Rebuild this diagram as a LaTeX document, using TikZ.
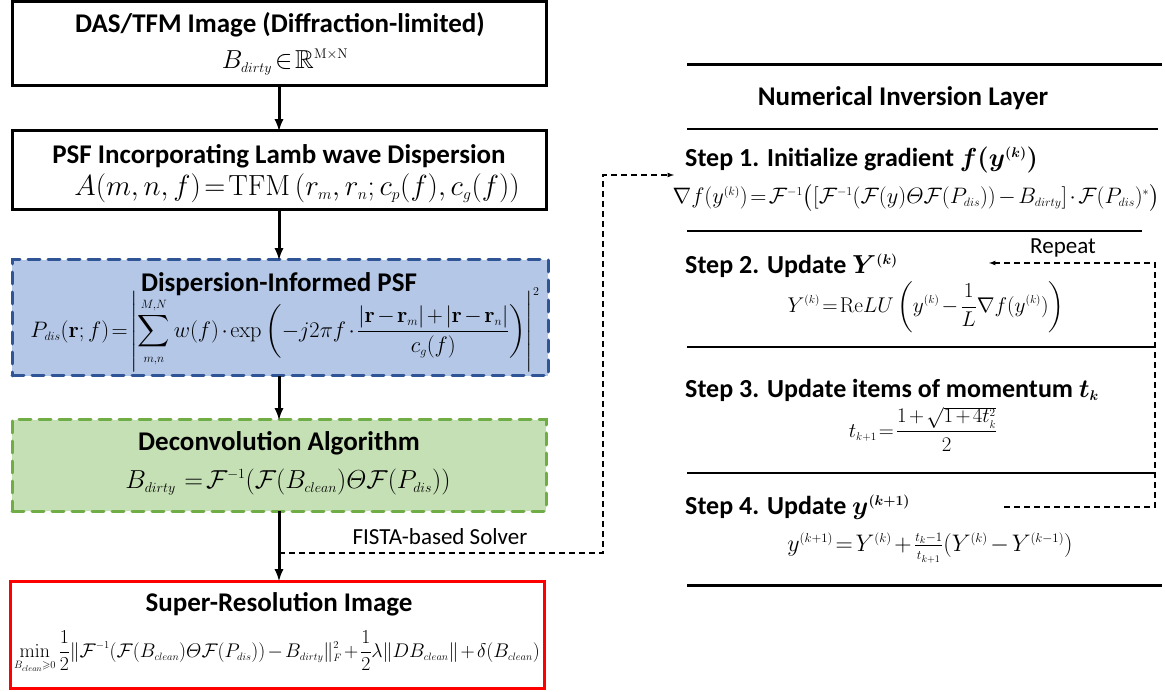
\RequirePackage{fix-cm}
\documentclass[tikz,border=0pt]{standalone}
\usepackage{amsmath,amssymb}
\usepackage[no-math]{fontspec}
\setmainfont{Carlito}
\usetikzlibrary{positioning}
\usetikzlibrary{arrows}

\DeclareMathSizes{26}{26}{14}{11}
% tight spacing round relations and binary operators
\newcommand{\tighteqn}{\thickmuskip=2mu\relax\medmuskip=2mu\relax}

\definecolor{psfblue}{HTML}{B4C7E7}
\definecolor{psfbluedraw}{HTML}{2F5597}
\definecolor{deconvgreen}{HTML}{C5E0B4}
\definecolor{deconvgreendraw}{HTML}{70AD47}

\begin{document}
\begin{tikzpicture}[>=latex,x=1pt,y=-1pt,font=\fontsize{23}{27}\selectfont,
	flowbox/.style={minimum width=534pt,outer sep=0pt,draw=black,line width=3pt},
	dashbox/.style={flowbox,dash pattern=on 12pt off 8pt,line cap=round},
	boxtitle/.style={font=\fontsize{27}{32}\selectfont\bfseries,inner sep=0pt},
	steptitle/.style={font=\fontsize{26}{31}\selectfont\bfseries,inner sep=0pt,anchor=west},
	eqn/.style={font=\fontsize{26}{30}\selectfont\tighteqn,inner sep=0pt},
	flowarrow/.style={->,line width=3pt},
	solverline/.style={->,line width=1.2pt,dash pattern=on 6pt off 4pt},
	thickrule/.style={line width=3pt},
	thinrule/.style={line width=2pt}]
	\useasboundingbox (0,0) rectangle (1165,692);

	% left column: imaging pipeline
	\node [flowbox,minimum height=84pt] at (279,44) (das_box) {};
	\node [boxtitle] at (280,25) (das_title) {DAS/TFM Image (Diffraction-limited)};
	\node [eqn] at (285,62) (das_eq) {$B_{dirty}\in\mathbb{R}^{\mathrm{M\times N}}$};

	\node [flowbox,minimum height=79pt] at (279,170.5) (psf_box) {};
	\node [boxtitle] at (279,156) (psf_title) {PSF Incorporating Lamb wave Dispersion};
	\node [eqn,scale=1.12] at (297,188) (psf_eq) {$A(m,n,f)=\mathrm{TFM}\,(r_m,r_n;c_p(f),c_g(f))$};

	\node [dashbox,minimum width=536pt,minimum height=116pt,draw=psfbluedraw,fill=psfblue] at (280,318) (dis_box) {};
	\node [boxtitle] at (279,284) (dis_title) {Dispersion-Informed PSF};
	\node [eqn,scale=0.86] at (285,330) (dis_eq) {$\displaystyle P_{dis}(\mathbf{r};f)=\left|\sum_{m,n}^{M,N} w(f)\cdot\exp\left(-j2\pi f\cdot\frac{|\mathbf{r}-\mathbf{r}_m|+|\mathbf{r}-\mathbf{r}_n|}{c_g(f)}\right)\right|^2$};

	\node [dashbox,minimum height=91pt,draw=deconvgreendraw,fill=deconvgreen] at (279,465.5) (dec_box) {};
	\node [boxtitle] at (279,443) (dec_title) {Deconvolution Algorithm};
	\node [eqn] at (288,482) (dec_eq) {$B_{dirty}\;\;=\mathcal{F}^{-1}(\mathcal{F}(B_{clean})\varTheta\mathcal{F}(P_{dis}))$};

	\node [flowbox,minimum height=107pt,draw=red] at (277,634.5) (sr_box) {};
	\node [boxtitle] at (279,604) (sr_title) {Super-Resolution Image};
	\node [eqn,scale=0.76] at (277,652) (sr_eq) {$\displaystyle\min_{B_{clean}\geqslant 0}\frac{1}{2}\|\mathcal{F}^{-1}(\mathcal{F}(B_{clean})\varTheta\mathcal{F}(P_{dis}))-B_{dirty}\|_F^2+\frac{1}{2}\lambda\|DB_{clean}\|+\delta(B_{clean})$};

	\draw [flowarrow] (das_box.south -| 279,0) -- (psf_box.north -| 279,0);
	\draw [flowarrow] (psf_box.south -| 279,0) -- (dis_box.north -| 279,0);
	\draw [flowarrow] (dis_box.south -| 279,0) -- (dec_box.north -| 279,0);
	\draw [flowarrow] (dec_box.south -| 279,0) -- (sr_box.north -| 279,0);

	% right column: numerical inversion layer
	\draw [thickrule] (687,65) -- (1162,65);
	\node [boxtitle] at (903,98) (nil_title) {Numerical Inversion Layer};
	\draw [thinrule] (687,129) -- (1158,129);

	\node [steptitle] at (685,160) (step1_title) {Step 1. Initialize gradient $\boldsymbol{f(y^{(k)})}$};
	\node [eqn,scale=0.86] at (916,198) (step1_eq) {$\nabla f(y^{(k)})=\mathcal{F}^{-1}\big([\mathcal{F}^{-1}(\mathcal{F}(y)\varTheta\mathcal{F}(P_{dis}))-B_{dirty}]\cdot\mathcal{F}(P_{dis})^*\big)$};
	\draw [thinrule] (687,231) -- (1142,231);

	\node [steptitle] at (685,266) (step2_title) {Step 2. Update $\boldsymbol{Y^{(k)}}$};
	\node [eqn,scale=0.82] at (926,307) (step2_eq) {$\displaystyle Y^{(k)}=\mathrm{Re}LU\left(y^{(k)}-\frac{1}{L}\nabla f(y^{(k)})\right)$};
	\draw [thinrule] (687,347) -- (1156,347);

	\node [steptitle] at (685,390) (step3_title) {Step 3. Update items of momentum $\boldsymbol{t_k}$};
	\node [eqn,scale=0.8] at (923,429) (step3_eq) {$\displaystyle t_{k+1}=\frac{1+\sqrt{1+4t_k^2}}{2}$};
	\draw [thinrule] (687,473) -- (1156,473);

	\node [steptitle] at (685,507) (step4_title) {Step 4. Update $\boldsymbol{y^{(k+1)}}$};
	\node [eqn,scale=0.92] at (930,548) (step4_eq) {$y^{(k+1)}=Y^{(k)}+\frac{t_k-1}{t_{k+1}}(Y^{(k)}-Y^{(k-1)})$};
	\draw [thickrule] (687,585) -- (1162,585);

	% solver hand-off and iteration loop
	\node at (440,537) (fista_lbl) {FISTA-based Solver};
	\coordinate (fista_start) at (279,553);
	\coordinate (fista_turn) at (603,553);
	\coordinate (step1_in) at (674,175);
	\draw [solverline] (fista_start) -- (fista_turn) |- (step1_in);

	\node at (1063,248) (repeat_lbl) {Repeat};
	\coordinate (repeat_start) at (1004,507);
	\coordinate (repeat_turn) at (1155,507);
	\coordinate (repeat_end) at (989,263);
	\draw [solverline] (repeat_start) -- (repeat_turn) |- (repeat_end);
\end{tikzpicture}
\end{document}
